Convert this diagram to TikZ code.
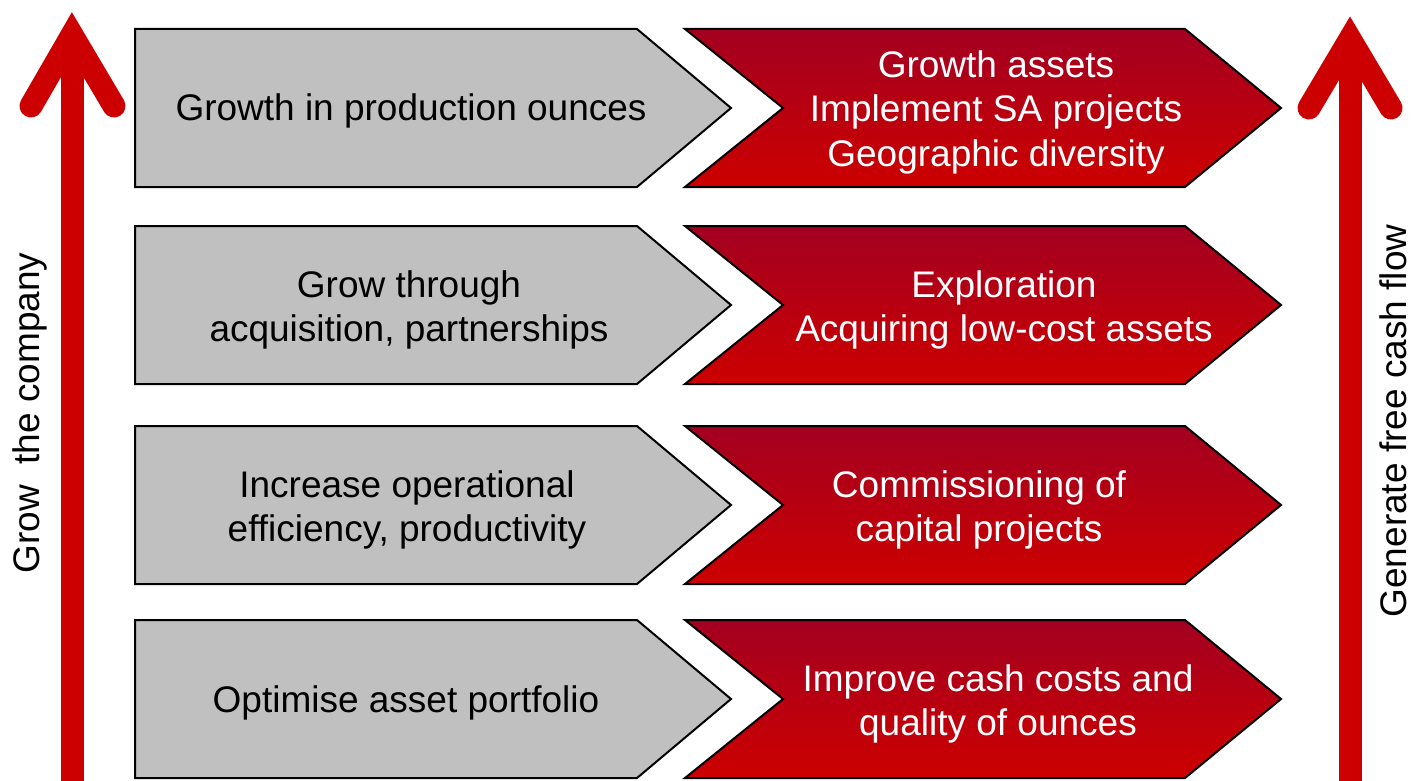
\documentclass[tikz,border=0pt]{standalone}
\usepackage{fontspec}
\setmainfont{Liberation Sans}
\definecolor{arrowred}{RGB}{204,0,0}
\definecolor{chevtop}{RGB}{163,0,33}
\definecolor{chevbot}{RGB}{204,0,0}
\definecolor{boxgray}{RGB}{192,192,192}
\begin{document}
\begin{tikzpicture}[x=1pt,y=-1pt,
  graybox/.style={draw=black,line width=2pt,fill=boxgray,line join=miter},
  redbox/.style={draw=black,line width=2pt,top color=chevtop,bottom color=chevbot,line join=miter},
  label/.style={font=\fontsize{37}{44.5}\selectfont,align=center,inner sep=0pt},
  bigarrow/.style={draw=arrowred,line width=23pt}]
\useasboundingbox (0,0) rectangle (1413,781);
% the four rows
\foreach \m in {108,305,505,699} {
  \draw[graybox] (135,\m-79) -- (637,\m-79) -- (731,\m) -- (637,\m+79) -- (135,\m+79) -- cycle;
  \draw[redbox] (685,\m-79) -- (1185,\m-79) -- (1281,\m) -- (1185,\m+79) -- (685,\m+79) -- (783,\m) -- cycle;
}
\node[label] (g1) at (411,111) {Growth in production ounces};
\node[label] (g2) at (409,310) {Grow through\\acquisition, partnerships};
\node[label] (g3) at (407,510) {Increase operational\\efficiency, productivity};
\node[label] (g4) at (406,703) {Optimise asset portfolio};
\node[label,text=white] (r1) at (996,112) {Growth assets\\Implement SA projects\\Geographic diversity};
\node[label,text=white] (r2) at (1004,310) {Exploration\\Acquiring low-cost assets};
\node[label,text=white] (r3) at (979,510) {Commissioning of\\capital projects};
\node[label,text=white] (r4) at (998,704) {Improve cash costs and\\quality of ounces};
% side arrows
\coordinate (lbase) at (72,781);
\coordinate (ltip) at (72,35);
\coordinate (lwl) at (31,106);
\coordinate (lwr) at (114,106);
\draw[bigarrow] (lbase) -- (ltip);
\draw[bigarrow,line cap=round,line join=miter] (lwl) -- (ltip) -- (lwr);
\coordinate (rbase) at (1350,781);
\coordinate (rtip) at (1350,39);
\coordinate (rwl) at (1309,108);
\coordinate (rwr) at (1391,108);
\draw[bigarrow] (rbase) -- (rtip);
\draw[bigarrow,line cap=round,line join=miter] (rwl) -- (rtip) -- (rwr);
\node[label,rotate=90] (grow) at (30,413) {Grow\ \ the company};
\node[label,rotate=90] (cash) at (1393,421) {Generate free cash flow};
\end{tikzpicture}
\end{document}
